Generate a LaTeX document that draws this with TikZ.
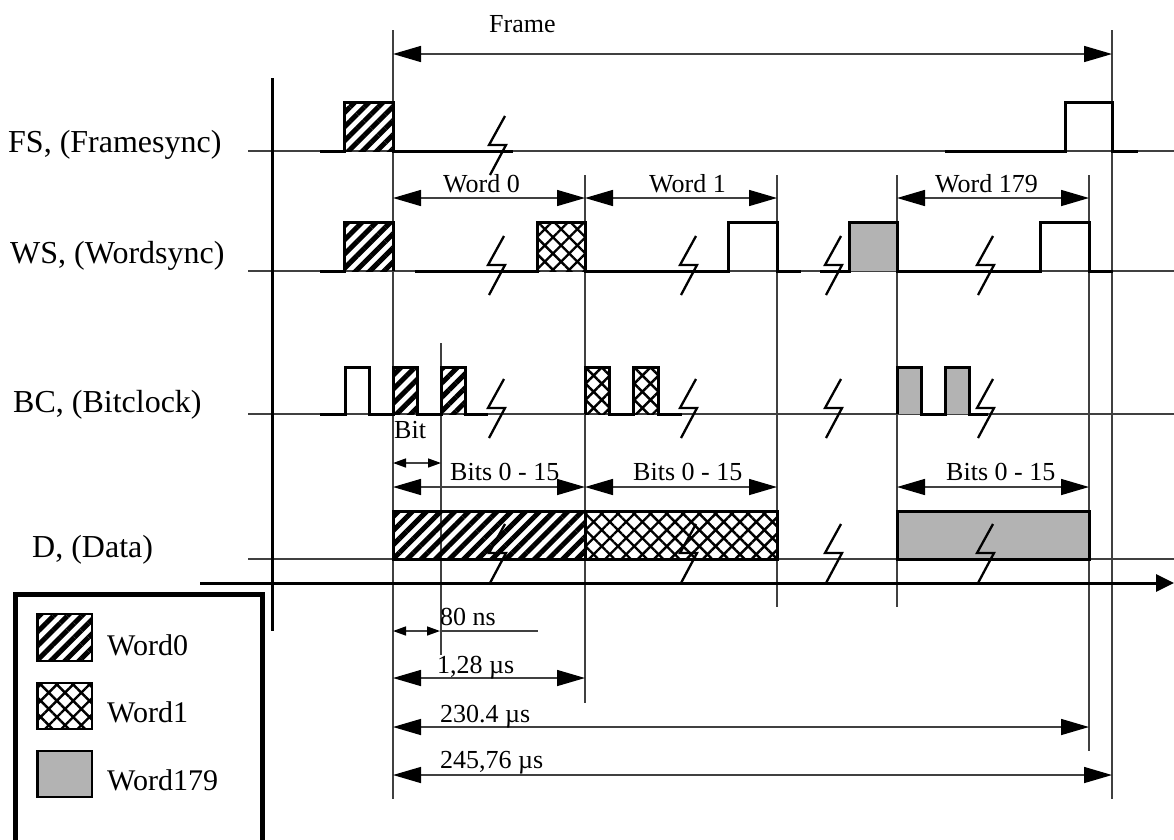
\documentclass[tikz,border=0pt]{standalone}
\usepackage{fontspec}
\setmainfont{Liberation Serif}
\usetikzlibrary{arrows.meta,patterns.meta}
\definecolor{ln}{RGB}{64,64,64}
\definecolor{grayfill}{RGB}{179,179,179}
\tikzset{
  refl/.style={draw=ln, line width=1.5pt},
  sigl/.style={draw=black, line width=3pt, line join=miter},
  hatchA/.style={pattern={Lines[angle=45,distance=10pt,line width=5pt]}},
  hatchB/.style={pattern={Hatch[angle=45,distance=11.5pt,line width=2.4pt]}},
  grayf/.style={fill=grayfill},
  dim/.style={refl, {Triangle[length=28pt,width=16pt,black]}-{Triangle[length=28pt,width=16pt,black]}},
  sdim/.style={refl, {Triangle[length=13pt,width=9pt,black]}-{Triangle[length=13pt,width=9pt,black]}},
  brk/.style={draw=black, line width=2.3pt, line join=miter, miter limit=6},
  lbl/.style={inner sep=0pt, anchor=base west, font=\fontsize{26}{30}\selectfont},
  leg/.style={inner sep=0pt, anchor=base west, font=\fontsize{30}{36}\selectfont},
  sig/.style={inner sep=0pt, anchor=base west, font=\fontsize{32}{38}\selectfont},
}
\newcommand\brkmark[2]{\draw[brk] ({#1+8},{#2-35}) -- ({#1-8},{#2-6}) -- ({#1+9},{#2-6}) -- ({#1-7},{#2+24});}
\begin{document}
\begin{tikzpicture}[x=1pt,y=-1pt]
\useasboundingbox (0,0) rectangle (1174,839);
\clip (0,0) rectangle (1174,839);
\fill[white] (0,0) rectangle (1174,839);

% ---- signal names
\node[sig] (nFS) at (8,152) {FS, (Framesync)};
\node[sig] (nWS) at (10,263) {WS, (Wordsync)};
\node[sig] (nBC) at (13,412) {BC, (Bitclock)};
\node[sig] (nD)  at (32,557) {D, (Data)};

% ---- baselines
\coordinate (bFSl) at (248,151); \coordinate (bFSr) at (1174,151);
\coordinate (bWSl) at (248,271); \coordinate (bWSr) at (1174,271);
\coordinate (bBCl) at (248,414); \coordinate (bBCr) at (1174,414);
\coordinate (bDl)  at (248,559); \coordinate (bDr)  at (1174,559);
\draw[refl] (bFSl) -- (bFSr);
\draw[refl] (bWSl) -- (bWSr);
\draw[refl] (bBCl) -- (bBCr);
\draw[refl] (bDl) -- (bDr);

% ---- vertical reference lines
\coordinate (v1t) at (393,30);   \coordinate (v1b) at (393,799);
\coordinate (v2t) at (1112,30);  \coordinate (v2b) at (1112,799);
\coordinate (v3t) at (585,175);  \coordinate (v3b) at (585,703);
\coordinate (v4t) at (777,175);  \coordinate (v4b) at (777,607);
\coordinate (v5t) at (897,175);  \coordinate (v5b) at (897,607);
\coordinate (v6t) at (1089,175); \coordinate (v6b) at (1089,751);
\coordinate (v7t) at (441,343);  \coordinate (v7b) at (441,655);
\foreach \a in {1,...,7} {\draw[refl] (v\a t) -- (v\a b);}

% ---- axes
\coordinate (axT) at (272,78); \coordinate (axB) at (272,631);
\draw[line width=3pt] (axT) -- (axB);
\coordinate (axL) at (200,583); \coordinate (axR) at (1174,583);
\draw[line width=3pt, -{Triangle[length=18pt,width=17pt]}] (axL) -- (axR);

% ---- FS
\fill[hatchA] (344,102) rectangle (393,151);
\draw[sigl] (320,151) -- (344,151) -- (344,102) -- (393,102) -- (393,151) -- (513,151);
\draw[sigl] (945,151) -- (1065,151) -- (1065,102) -- (1112,102) -- (1112,151) -- (1138,151);

% ---- WS
\fill[hatchA] (344,222) rectangle (393,271);
\fill[hatchB] (537,222) rectangle (585,271);
\fill[grayf] (849,222) rectangle (897,271);
\draw[sigl] (320,271) -- (344,271) -- (344,222) -- (393,222) -- (393,271);
\draw[sigl] (415,271) -- (537,271) -- (537,222) -- (585,222) -- (585,271) -- (728,271) -- (728,222) -- (777,222) -- (777,271) -- (801,271);
\draw[sigl] (820,271) -- (849,271) -- (849,222) -- (897,222) -- (897,271) -- (1040,271) -- (1040,222) -- (1089,222) -- (1089,271) -- (1113,271);

% ---- BC
\fill[hatchA] (393,367) rectangle (417,414);
\fill[hatchA] (441,367) rectangle (465,414);
\fill[hatchB] (585,367) rectangle (609,414);
\fill[hatchB] (633,367) rectangle (658,414);
\fill[grayf] (897,367) rectangle (921,414);
\fill[grayf] (945,367) rectangle (969,414);
\draw[sigl] (320,414) -- (345,414) -- (345,367) -- (369,367) -- (369,414) -- (393,414) -- (393,367) -- (417,367) -- (417,414) -- (441,414) -- (441,367) -- (465,367) -- (465,414) -- (488,414);
\draw[sigl] (585,414) -- (585,367) -- (609,367) -- (609,414) -- (633,414) -- (633,367) -- (658,367) -- (658,414) -- (682,414);
\draw[sigl] (897,414) -- (897,367) -- (921,367) -- (921,414) -- (945,414) -- (945,367) -- (969,367) -- (969,414) -- (988,414);

% ---- Data
\fill[hatchA] (393,511) rectangle (585,559);
\fill[hatchB] (585,511) rectangle (777,559);
\fill[grayf] (897,511) rectangle (1089,559);
\draw[sigl] (393,511) rectangle (585,559);
\draw[sigl] (585,511) rectangle (777,559);
\draw[sigl] (897,511) rectangle (1089,559);

% ---- break marks
\brkmark{497}{151}
\foreach \x in {496,688,833,985} {\brkmark{\x}{271}}
\foreach \x in {496,688,833,985} {\brkmark{\x}{414}}
\foreach \x in {497,688,833,985} {\brkmark{\x}{559}}

% ---- dimension arrows
\coordinate (fA) at (393,54);  \coordinate (fB) at (1112,54);
\draw[dim] (fA) -- (fB);
\node[lbl] (tFrame) at (489,32) {Frame};

\coordinate (w0a) at (393,198); \coordinate (w0b) at (585,198);
\coordinate (w1a) at (585,198); \coordinate (w1b) at (777,198);
\coordinate (w2a) at (897,198); \coordinate (w2b) at (1089,198);
\draw[dim] (w0a) -- (w0b);
\draw[dim] (w1a) -- (w1b);
\draw[dim] (w2a) -- (w2b);
\node[lbl] (tW0) at (443,192) {Word 0};
\node[lbl] (tW1) at (649,192) {Word 1};
\node[lbl] (tW2) at (935,192) {Word 179};

\coordinate (ba) at (393,463); \coordinate (bb) at (441,463);
\draw[sdim] (ba) -- (bb);
\node[lbl] (tBit) at (394,438) {Bit};

\coordinate (b0a) at (393,487); \coordinate (b0b) at (585,487);
\coordinate (b1a) at (585,487); \coordinate (b1b) at (777,487);
\coordinate (b2a) at (897,487); \coordinate (b2b) at (1089,487);
\draw[dim] (b0a) -- (b0b);
\draw[dim] (b1a) -- (b1b);
\draw[dim] (b2a) -- (b2b);
\node[lbl] (tB0) at (450,480) {Bits 0 - 15};
\node[lbl] (tB1) at (633,480) {Bits 0 - 15};
\node[lbl] (tB2) at (946,480) {Bits 0 - 15};

\coordinate (n80a) at (393,631); \coordinate (n80b) at (440,631); \coordinate (n80c) at (538,631);
\draw[sdim] (n80a) -- (n80b);
\draw[refl] (n80b) -- (n80c);
\node[lbl] (t80) at (440,625) {80 ns};

\coordinate (m1a) at (393,678); \coordinate (m1b) at (585,678);
\draw[dim] (m1a) -- (m1b);
\node[lbl] (t128) at (437,673) {1,28 µs};

\coordinate (m2a) at (393,727); \coordinate (m2b) at (1089,727);
\draw[dim] (m2a) -- (m2b);
\node[lbl] (t230) at (440,722) {230.4 µs};

\coordinate (m3a) at (393,775); \coordinate (m3b) at (1112,775);
\draw[dim] (m3a) -- (m3b);
\node[lbl] (t245) at (440,768) {245,76 µs};

% ---- legend
\draw[line width=5pt] (15.5,594) rectangle (262.5,880);
\fill[hatchA] (37.5,614) rectangle (92,661);
\draw[line width=2.5pt] (37.5,614) rectangle (92,661);
\fill[hatchB] (37.5,683) rectangle (92,729);
\draw[line width=2.5pt] (37.5,683) rectangle (92,729);
\fill[grayf] (37.5,751) rectangle (92,797);
\draw[line width=2.5pt] (37.5,751) rectangle (92,797);
\node[leg] (l0) at (107,655) {Word0};
\node[leg] (l1) at (107,722) {Word1};
\node[leg] (l2) at (107,790) {Word179};
\end{tikzpicture}
\end{document}
